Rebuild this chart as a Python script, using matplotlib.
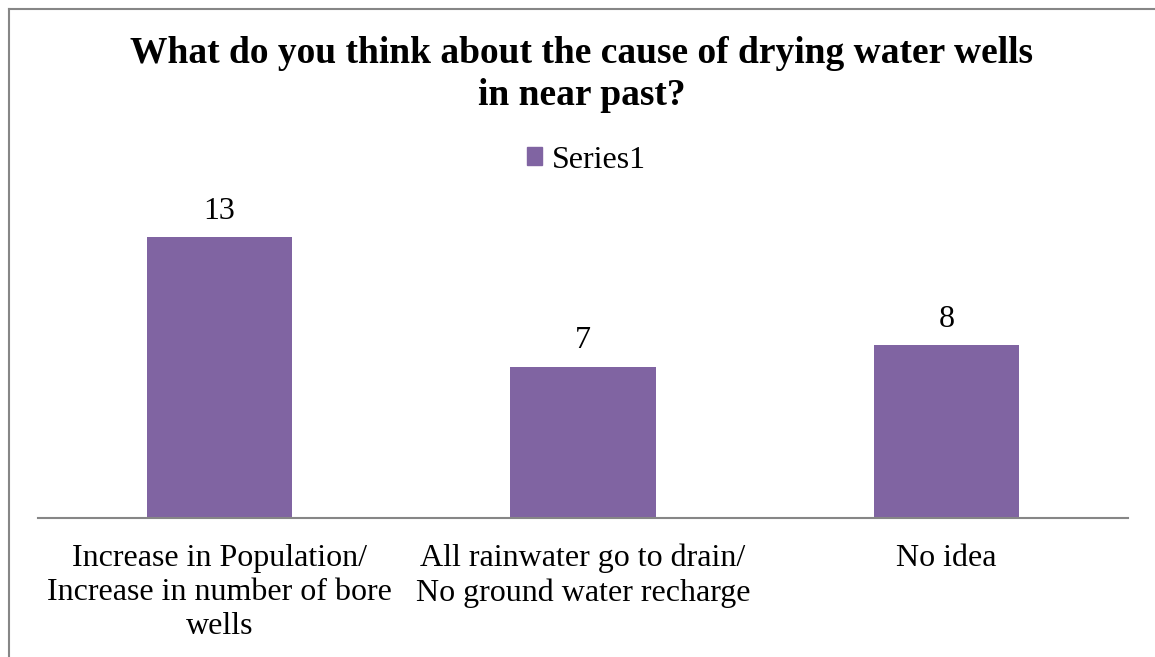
import matplotlib
matplotlib.use("Agg")
import matplotlib.pyplot as plt
from matplotlib.lines import Line2D
from matplotlib.patches import Rectangle

categories = [
    "Increase in Population/\nIncrease in number of bore\nwells",
    "All rainwater go to drain/\nNo ground water recharge",
    "No idea",
]
values = [13, 7, 8]
series_name = "Series1"
title = "What do you think about the cause of drying water wells\nin near past?"

bar_color = "#8064A2"
axis_color = "#868686"

plt.rcParams["font.family"] = ["Liberation Serif", "DejaVu Serif"]

W, H = 1155, 657
fig = plt.figure(figsize=(W / 100, H / 100), dpi=100)
fig.patch.set_facecolor("white")

# plot area in pixel terms
left, right, base, top = 38, 1128, 518, 215
ax = fig.add_axes([left / W, (H - base) / H, (right - left) / W, (base - top) / H])

x = list(range(len(values)))
bars = ax.bar(x, values, width=0.4, color=bar_color, label=series_name, zorder=2)
ax.set_xlim(-0.5, len(values) - 0.5)
ax.set_ylim(0, 14)

for rect, v in zip(bars, values):
    ax.annotate(str(v), (rect.get_x() + rect.get_width() / 2, v),
                xytext=(0, 8), textcoords="offset points",
                ha="center", va="bottom", fontsize=23, color="black")

for s in ["top", "right", "left"]:
    ax.spines[s].set_visible(False)
ax.spines["bottom"].set_color(axis_color)
ax.spines["bottom"].set_linewidth(1.5)
ax.set_yticks([])
ax.set_xticks(x)
ax.set_xticklabels(categories, fontsize=23, linespacing=1.24)
ax.tick_params(axis="x", length=0, pad=18.5)

fig.text(582 / W, 1 - 36 / H, title, ha="center", va="top",
         fontsize=27, fontweight="bold", linespacing=1.25)

leg = fig.legend(handles=[Rectangle((0, 0), 1, 1, color=bar_color)], labels=[series_name],
                 loc="center", bbox_to_anchor=(586 / W, 1 - 160 / H), frameon=False,
                 fontsize=23, handlelength=0.48, handleheight=0.48, handletextpad=0.3,
                 borderpad=0, borderaxespad=0)

# outer frame (top and left edges)
fig.add_artist(Line2D([8.5 / W, 8.5 / W], [0, 1 - 8.5 / H], transform=fig.transFigure,
                      color=axis_color, lw=1.5))
fig.add_artist(Line2D([8.5 / W, 1], [1 - 8.5 / H, 1 - 8.5 / H], transform=fig.transFigure,
                      color=axis_color, lw=1.5))

fig.savefig("out.png", dpi=100)
